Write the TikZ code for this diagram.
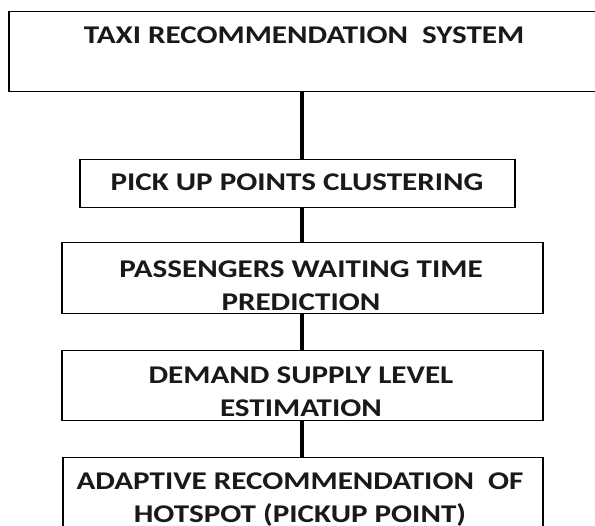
\documentclass[tikz,border=0pt]{standalone}
\usepackage{fontspec}
\setmainfont{Carlito}[FakeStretch=1.22]
\begin{document}
\begin{tikzpicture}[x=1pt,y=-1pt,
  boxnode/.style={draw=black, line width=1.5pt, rectangle, inner sep=0pt, anchor=north west},
  txt/.style={font=\bfseries\fontsize{25.5}{33.5}\selectfont, align=center, inner sep=0pt, text=black!90},
  link/.style={line width=3.3pt, draw=black}]
\useasboundingbox (0,0) rectangle (595,526);
\clip (0,0) rectangle (595,526);
\fill[white] (0,0) rectangle (595,526);
% boxes
\node[boxnode, minimum width=600pt, minimum height=80pt] (sys) at (8,11) {};
\node[boxnode, minimum width=435pt, minimum height=48pt] (pick) at (79,159) {};
\node[boxnode, minimum width=481pt, minimum height=71pt] (pass) at (61,242) {};
\node[boxnode, minimum width=481pt, minimum height=70pt] (dem) at (61,350) {};
\node[boxnode, minimum width=480pt, minimum height=90pt] (adapt) at (62,457) {};
% texts
\node[txt] (tsys) at (304,35.5) {TAXI RECOMMENDATION\ \ SYSTEM};
\node[txt] (tpick) at (297,182.5) {PICK UP POINTS CLUSTERING};
\node[txt] (tpass) at (301,285.5) {PASSENGERS WAITING TIME\\PREDICTION};
\node[txt] (tdem) at (301,391.5) {DEMAND SUPPLY LEVEL\\ESTIMATION};
\node[txt] (tadapt) at (300,499.5) {ADAPTIVE RECOMMENDATION\ \ OF\\HOTSPOT (PICKUP POINT)};
% connectors
\coordinate (axis) at (302,0);
\draw[link] (sys.south -| axis) -- (pick.north -| axis);
\draw[link] (pick.south -| axis) -- (pass.north -| axis);
\draw[link] (pass.south -| axis) -- (dem.north -| axis);
\draw[link] (dem.south -| axis) -- (adapt.north -| axis);
\end{tikzpicture}
\end{document}
